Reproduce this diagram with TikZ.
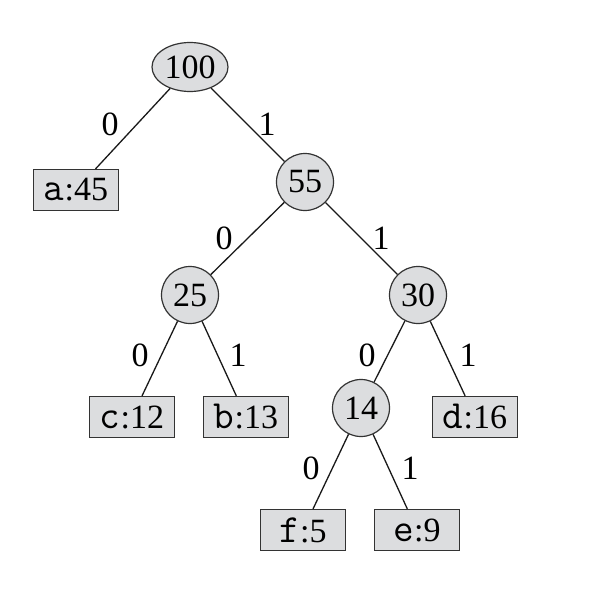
\documentclass[tikz,border=0pt]{standalone}
\usepackage{fontspec}
\setmainfont{Liberation Serif}
\usetikzlibrary{shapes.geometric}
\definecolor{nodefill}{HTML}{DCDDDF}
\definecolor{nodeline}{HTML}{333333}
\newcommand{\keych}[1]{{\fontsize{40}{40}\selectfont\texttt{#1}}}
\begin{document}
\begin{tikzpicture}[x=1pt,y=-1pt,
  txt/.style={font=\fontsize{34}{38}\selectfont},
  inner/.style={txt,circle,draw=nodeline,fill=nodefill,line width=1.2pt,minimum size=57pt,inner sep=0pt},
  rootnode/.style={txt,ellipse,draw=nodeline,fill=nodefill,line width=1.2pt,minimum width=76pt,minimum height=49pt,inner sep=0pt},
  leaf/.style={txt,rectangle,draw=nodeline,fill=nodefill,line width=1.2pt,minimum width=85pt,minimum height=41pt,inner sep=0pt},
  edge/.style={draw=black!90,line width=1.3pt},
  lbl/.style={txt,inner sep=0pt}]
\useasboundingbox (0,0) rectangle (615,591);
\node[rootnode] (n100) at (190,67) {100};
\node[leaf] (a) at (76,190) {\keych{a}:45};
\node[inner] (n55) at (305,182) {55};
\node[inner] (n25) at (190,295) {25};
\node[inner] (n30) at (418,295) {30};
\node[leaf] (c) at (132,417) {\keych{c}:12};
\node[leaf] (b) at (246,417) {\keych{b}:13};
\node[inner] (n14) at (361,408) {14};
\node[leaf] (d) at (475,417) {\keych{d}:16};
\node[leaf] (f) at (303,530) {\keych{f}:5};
\node[leaf] (e) at (417,530) {\keych{e}:9};
\draw[edge] (n100) -- (a);
\draw[edge] (n100) -- (n55);
\draw[edge] (n55) -- (n25);
\draw[edge] (n55) -- (n30);
\draw[edge] (n25) -- (c);
\draw[edge] (n25) -- (b);
\draw[edge] (n30) -- (n14);
\draw[edge] (n30) -- (d);
\draw[edge] (n14) -- (f);
\draw[edge] (n14) -- (e);
\node[lbl] (l1) at (110,124) {0};
\node[lbl] (l2) at (267,124) {1};
\node[lbl] (l3) at (224,238) {0};
\node[lbl] (l4) at (381,238) {1};
\node[lbl] (l5) at (140,355) {0};
\node[lbl] (l6) at (238,355) {1};
\node[lbl] (l7) at (367,355) {0};
\node[lbl] (l8) at (468,355) {1};
\node[lbl] (l9) at (311,468) {0};
\node[lbl] (l10) at (410,468) {1};
\end{tikzpicture}
\end{document}
